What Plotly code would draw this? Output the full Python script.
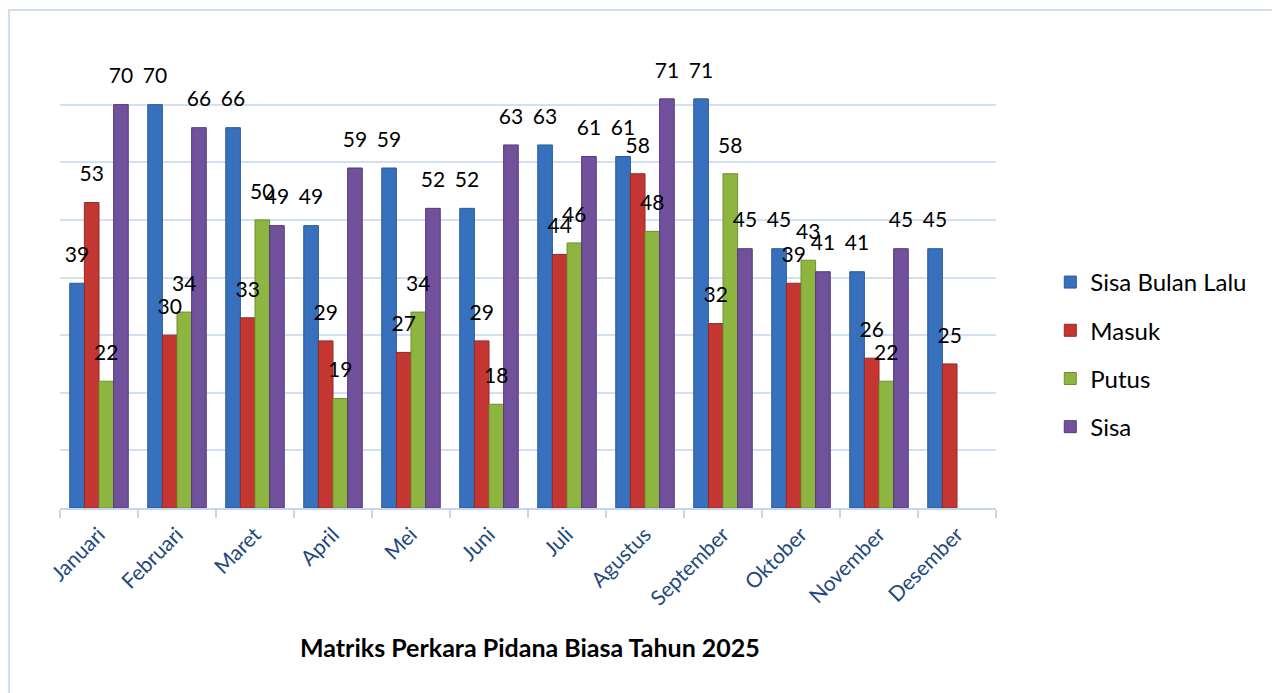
import plotly.graph_objects as go

months = ["Januari", "Februari", "Maret", "April", "Mei", "Juni", "Juli",
          "Agustus", "September", "Oktober", "November", "Desember"]
sisa_bulan_lalu = [39, 70, 66, 49, 59, 52, 63, 61, 71, 45, 41, 45]
masuk = [53, 30, 33, 29, 27, 29, 44, 58, 32, 39, 26, 25]
putus = [22, 34, 50, 19, 34, 18, 46, 48, 58, 43, 22, None]
sisa = [70, 66, 49, 59, 52, 63, 61, 71, 45, 41, 45, None]

series = [
    ("Sisa Bulan Lalu", sisa_bulan_lalu, "#3770BC", "#2A5A98"),
    ("Masuk", masuk, "#C33632", "#962826"),
    ("Putus", putus, "#8DB540", "#6E8F30"),
    ("Sisa", sisa, "#72519C", "#55397A"),
]

FONT = "Lato"
GAP = 0.25
fig = go.Figure()
for name, vals, col, edge in series:
    fig.add_trace(go.Bar(
        x=months, y=vals, name=name,
        marker=dict(color=col, line=dict(color=edge, width=1)),
        offsetgroup=name, legendgroup=name,
        hoverinfo="x+y+name",
    ))
# value labels drawn above all bars
for name, vals, col, edge in series:
    fig.add_trace(go.Scatter(
        x=months, y=vals, name=name,
        mode="markers+text",
        marker=dict(size=24, opacity=0, color=col),
        text=[("" if v is None else str(v)) for v in vals],
        textposition="top center",
        textfont=dict(family=FONT, size=21, color="#000000"),
        offsetgroup=name, legendgroup=name,
        showlegend=False, cliponaxis=False, hoverinfo="skip",
    ))

fig.update_layout(
    width=1272, height=685,
    paper_bgcolor="white", plot_bgcolor="white",
    barmode="group", bargap=GAP, bargroupgap=0.0,
    scattermode="group", scattergap=GAP,
    margin=dict(l=52, r=284, t=39, b=185),
    font=dict(family=FONT, color="#000000"),
    showlegend=True,
    legend=dict(
        x=1.058, y=0.538, xanchor="left", yanchor="top",
        font=dict(family=FONT, size=24, color="#000000"),
        tracegroupgap=14, itemwidth=30, bgcolor="rgba(0,0,0,0)",
    ),
    xaxis=dict(
        tickangle=-45, tickfont=dict(family=FONT, size=21, color="#1F497D"),
        ticklabelstandoff=4,
        showline=True, linecolor="#C5D6EC", linewidth=2,
        ticks="outside", tickson="boundaries", ticklen=8, tickcolor="#C5D6EC", tickwidth=2,
        showgrid=False, automargin=False,
    ),
    yaxis=dict(
        range=[0, 80], dtick=10, showticklabels=False,
        showgrid=True, gridcolor="#D3E0F1", gridwidth=2,
        zeroline=False, showline=False, automargin=False,
    ),
    annotations=[dict(
        text="<b>Matriks Perkara Pidana Biasa Tahun 2025</b>",
        xref="paper", yref="paper", x=0.502, y=-0.3015, xanchor="center", yanchor="middle",
        showarrow=False, font=dict(family=FONT, size=25, color="#000000"),
    )],
    shapes=[dict(
        type="rect", xref="paper", yref="paper",
        x0=-0.0545, x1=1.299, y0=-0.45, y1=1.080,
        line=dict(color="#D0DEF0", width=2), fillcolor="rgba(0,0,0,0)", layer="below",
    )],
)

fig.write_html("out.html")
